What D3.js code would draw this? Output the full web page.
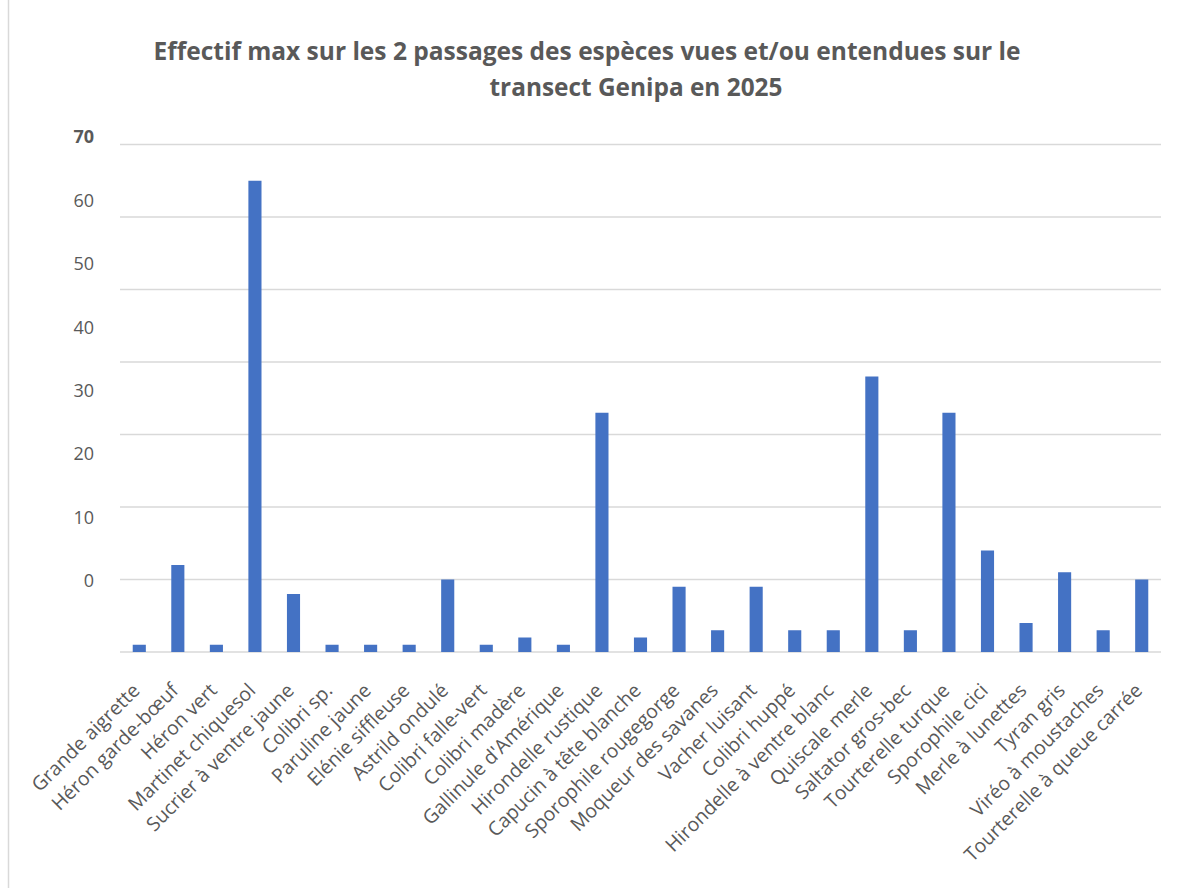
<!DOCTYPE html>
<html><head><meta charset="utf-8">
<script src="https://cdn.jsdelivr.net/npm/d3@7"></script>
<style>body{margin:0;background:#fff;} svg{display:block;}</style>
</head><body>
<svg id="c" width="1178" height="888"></svg>
<script>
const categories = ["Grande aigrette","Héron garde-bœuf","Héron vert","Martinet chiquesol","Sucrier à ventre jaune","Colibri sp.","Paruline jaune","Elénie siffleuse","Astrild ondulé","Colibri falle-vert","Colibri madère","Gallinule d'Amérique","Hirondelle rustique","Capucin à tête blanche","Sporophile rougegorge","Moqueur des savanes","Vacher luisant","Colibri huppé","Hirondelle à ventre blanc","Quiscale merle","Saltator gros-bec","Tourterelle turque","Sporophile cici","Merle à lunettes","Tyran gris","Viréo à moustaches","Tourterelle à queue carrée"];
const values = [1,12,1,65,8,1,1,1,10,1,2,1,33,2,9,3,9,3,3,38,3,33,14,4,11,3,10];
const yTicks = [0,10,20,30,40,50,60,70];
const titleLines = ["Effectif max sur les 2 passages des espèces vues et/ou entendues sur le","transect Genipa en 2025"];

const svg = d3.select("#c");
const pLeft = 120, pRight = 1161, pTop = 144.5, pBottom = 652;

// frame left edge
svg.append("line").attr("x1",8.5).attr("x2",8.5).attr("y1",0).attr("y2",888).attr("stroke","#d9d9d9").attr("stroke-width",1.5);

const x = d3.scaleBand().domain(categories).range([pLeft,pRight]).paddingInner(0.66).paddingOuter(0.33);
const y = d3.scaleLinear().domain([0,70]).range([pBottom,pTop]);
// tick labels are drawn in the reference with their own (compressed) spacing
const yLab = d3.scaleLinear().domain([0,70]).range([581,137]);

// gridlines
svg.append("g").selectAll("line").data(yTicks).join("line")
  .attr("x1",pLeft).attr("x2",pRight)
  .attr("y1",d=>y(d)).attr("y2",d=>y(d))
  .attr("stroke","#d9d9d9").attr("stroke-width",1.5);

// y tick labels
const ya = svg.append("g").attr("transform","translate(94,0)")
  .call(d3.axisLeft(yLab).tickValues(yTicks).tickSize(0).tickPadding(0));
ya.select(".domain").remove();
ya.selectAll("text").attr("fill","#595959").style("font-family","'Open Sans', sans-serif").style("font-size","18px")
  .attr("font-weight",d=>d===70?"bold":"normal");

// bars
svg.append("g").selectAll("rect").data(values).join("rect")
  .attr("x",(d,i)=>x(categories[i]))
  .attr("width",x.bandwidth())
  .attr("y",d=>y(d))
  .attr("height",d=>y(0)-y(d))
  .attr("fill","#4472C4");

// x labels
const xa = svg.append("g").attr("transform",`translate(0,${pBottom})`)
  .call(d3.axisBottom(x).tickSize(0).tickPadding(0));
xa.select(".domain").remove();
xa.selectAll("text")
  .attr("fill","#595959")
  .style("font-family","'Open Sans', sans-serif").style("font-size","19.5px")
  .attr("text-anchor","end")
  .attr("dy",null).attr("y",null)
  .attr("transform","translate(-2,36) rotate(-45)")
  .attr("dominant-baseline","middle");

// title
svg.append("text").attr("x",587).attr("y",60).attr("text-anchor","middle")
  .attr("fill","#595959").attr("font-weight","bold")
  .style("font-family","'Open Sans', sans-serif").style("font-size","25px")
  .attr("textLength",867).attr("lengthAdjust","spacingAndGlyphs")
  .text(titleLines[0]);
svg.append("text").attr("x",636).attr("y",96).attr("text-anchor","middle")
  .attr("fill","#595959").attr("font-weight","bold")
  .style("font-family","'Open Sans', sans-serif").style("font-size","25px")
  .attr("textLength",293).attr("lengthAdjust","spacingAndGlyphs")
  .text(titleLines[1]);
</script>
</body></html>
